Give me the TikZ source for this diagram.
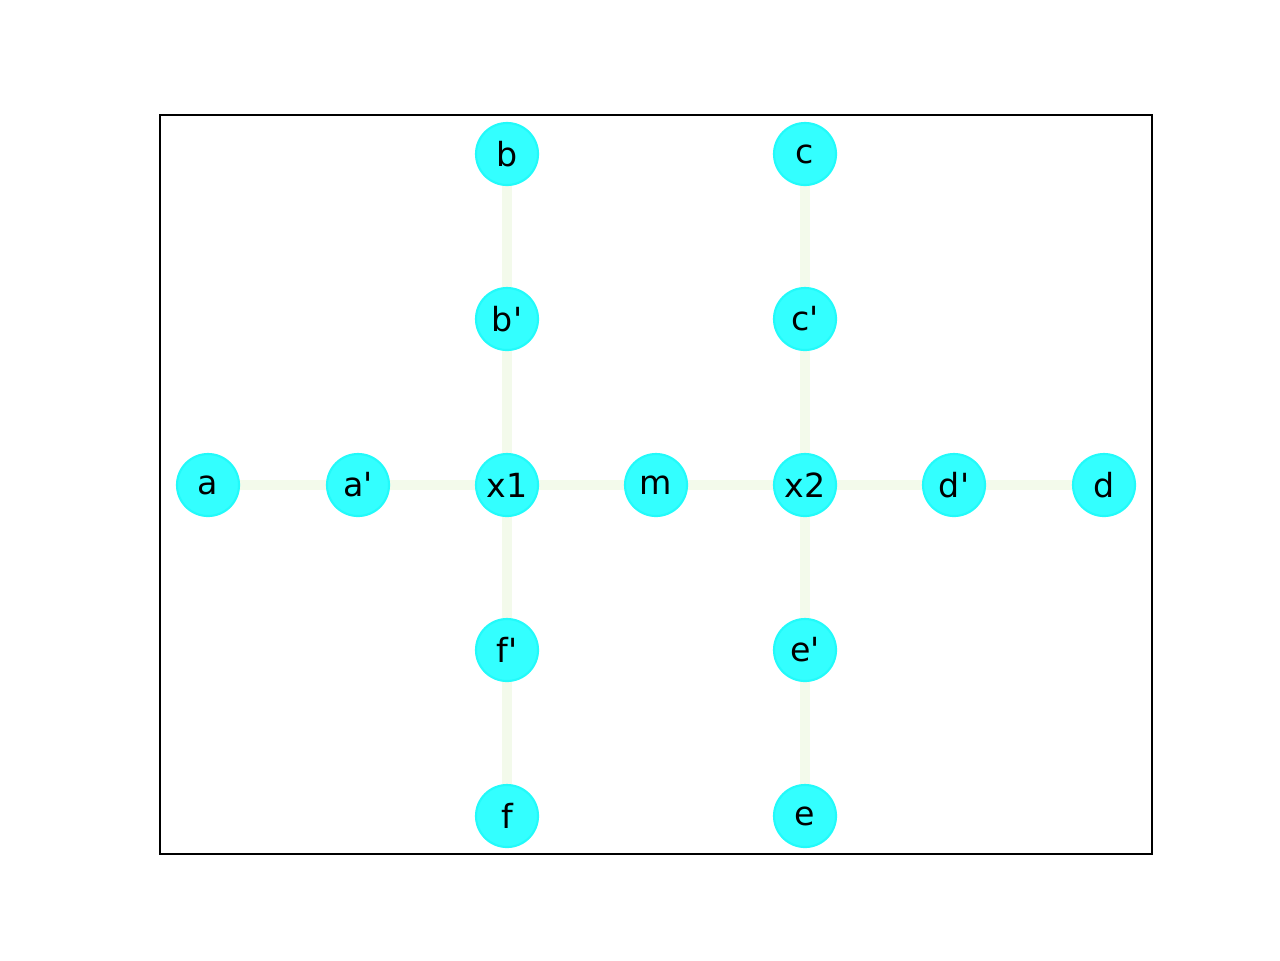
\documentclass[tikz,border=0pt]{standalone}
\usepackage{fontspec}
\setmainfont{DejaVu Sans}
\usetikzlibrary{backgrounds}
\definecolor{nodefill}{HTML}{33FFFF}
\definecolor{nodeedge}{HTML}{22FAFA}
\definecolor{edgecol}{HTML}{F3FAEB}
\begin{document}
\begin{tikzpicture}[x=0.01cm,y=-0.01cm,
  vert/.style={circle,fill=nodefill,draw=nodeedge,line width=0.6pt,minimum size=0.62cm,inner sep=0pt,font=\fontsize{9.45}{11}\selectfont},
  link/.style={draw=edgecol,line width=2.835pt}]
\useasboundingbox (0,0) rectangle (1280,960);
\draw[line width=0.57pt] (160,115) rectangle (1152,854);
\node[vert] (a) at (208,485) {a};
\node[vert] (ap) at (358,485) {a\textquotesingle};
\node[vert] (x1) at (507,485) {x1};
\node[vert] (m) at (656,485) {m};
\node[vert] (x2) at (805,485) {x2};
\node[vert] (dp) at (954,485) {d\textquotesingle};
\node[vert] (d) at (1104,485) {d};
\node[vert] (b) at (507,154) {b};
\node[vert] (bp) at (507,319) {b\textquotesingle};
\node[vert] (fp) at (507,650) {f\textquotesingle};
\node[vert] (f) at (507,816) {f};
\node[vert] (c) at (805,154) {c};
\node[vert] (cp) at (805,319) {c\textquotesingle};
\node[vert] (ep) at (805,650) {e\textquotesingle};
\node[vert] (e) at (805,816) {e};
\begin{scope}[on background layer]
\path[link] (a.center) -- (ap.center) -- (x1.center) -- (m.center) -- (x2.center) -- (dp.center) -- (d.center);
\path[link] (b.center) -- (bp.center) -- (x1.center) -- (fp.center) -- (f.center);
\path[link] (c.center) -- (cp.center) -- (x2.center) -- (ep.center) -- (e.center);
\end{scope}
\end{tikzpicture}
\end{document}
